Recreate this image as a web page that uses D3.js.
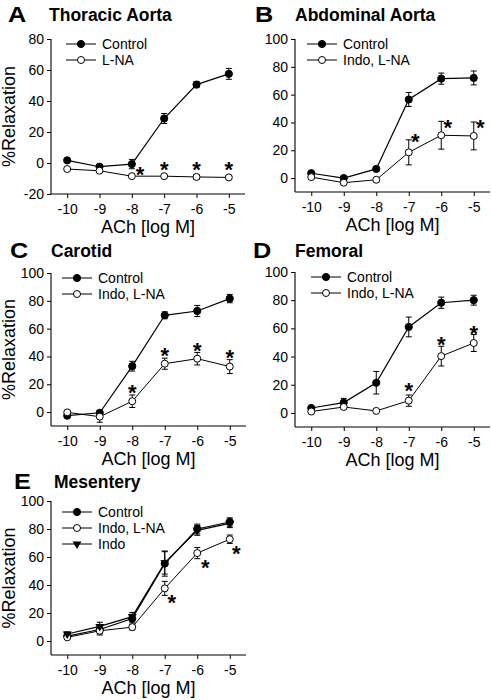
<!DOCTYPE html>
<html><head><meta charset="utf-8">
<script src="https://cdn.jsdelivr.net/npm/d3@7"></script>
<style>
body{margin:0;background:#fff;}
svg{display:block;}
text{font-family:"Liberation Sans",Arial,Helvetica,sans-serif;fill:#000;}
</style></head>
<body><svg id="c" width="492" height="700"></svg>
<script>
const doses = [-10, -9, -8, -7, -6, -5];
const xTicks = [-10, -9, -8, -7, -6, -5];
const xLabel = "ACh [log M]";
const yLabel = "%Relaxation";

// Panel A – Thoracic Aorta
const aControl = [1.7, -2.4, -0.7, 28.7, 50.6, 57.5];
const aControlErr = [1.2, 1.2, 3.0, 3.2, 2.0, 3.5];
const aLNA = [-3.9, -5.0, -8.5, -8.5, -9.0, -9.3];
const aLNAErr = [0.8, 0.8, 0.8, 1.0, 1.5, 1.2];
const aStars = [[-7.75, -4.5], [-7, -1], [-6, -1], [-5, -1]];
const aYTicks = [-20, 0, 20, 40, 60, 80];

// Panel B – Abdominal Aorta
const bControl = [3.5, 0.0, 6.6, 56.5, 71.5, 72.0];
const bControlErr = [1.0, 1.0, 1.5, 5.0, 4.0, 5.0];
const bIndoLNA = [0.7, -3.3, -1.2, 18.5, 30.8, 30.3];
const bIndoLNAErr = [0.8, 1.0, 1.0, 9.0, 10.0, 10.0];
const bStars = [[-6.8, 29.5], [-5.8, 39.5], [-4.8, 39.5]];

// Panel C – Carotid
const cControl = [-2.6, -0.5, 33.0, 69.6, 72.7, 81.6];
const cControlErr = [1.0, 1.5, 3.5, 2.5, 4.0, 3.0];
const cIndoLNA = [-0.2, -3.3, 7.8, 34.8, 38.4, 32.7];
const cIndoLNAErr = [1.0, 4.0, 4.5, 4.0, 4.5, 5.0];
const cStars = [[-8, 17.5], [-7, 44], [-6, 47.5], [-5, 42.5]];

// Panel D – Femoral
const dControl = [3.5, 7.3, 21.4, 61.0, 78.2, 80.0];
const dControlErr = [1.0, 3.0, 8.0, 7.0, 4.0, 3.5];
const dIndoLNA = [1.0, 4.2, 1.4, 8.7, 40.3, 49.6];
const dIndoLNAErr = [0.8, 1.5, 0.8, 4.0, 7.0, 6.0];
const dStars = [[-7, 19], [-6, 52], [-5, 59.5]];

// Panel E – Mesentery
const eControl = [3.5, 8.2, 16.0, 55.3, 80.0, 85.0];
const eControlErr = [1.5, 3.0, 3.0, 9.0, 3.5, 3.0];
const eIndoLNA = [2.6, 7.3, 9.9, 37.6, 62.8, 72.7];
const eIndoLNAErr = [1.0, 3.0, 2.0, 5.0, 4.0, 3.0];
const eIndo = [5.0, 10.4, 17.4, 55.8, 79.0, 84.0];
const eIndoErr = [1.5, 3.0, 3.0, 8.0, 3.5, 3.0];
const eStars = [[-6.78, 31], [-5.75, 56], [-4.8, 65.5]];
const yTicks100 = [0, 20, 40, 60, 80, 100];

const panels = [
  {letter:"A", title:"Thoracic Aorta", x0:51, x1:245, yTop:39, yBot:194, yDom:[-20,80], yTicks:aYTicks, ylab:true,
   letterX:8, titleX:49, headY:22,
   series:[{name:"Control", v:aControl, e:aControlErr, m:"fill"},{name:"L-NA", v:aLNA, e:aLNAErr, m:"open"}],
   stars:aStars, legX:66, legY:44},
  {letter:"B", title:"Abdominal Aorta", x0:295, x1:490, yTop:39, yBot:192, yDom:[-10,100], yTicks:yTicks100, ylab:false,
   letterX:255, titleX:295, headY:22,
   series:[{name:"Control", v:bControl, e:bControlErr, m:"fill"},{name:"Indo, L-NA", v:bIndoLNA, e:bIndoLNAErr, m:"open"}],
   stars:bStars, legX:307, legY:44},
  {letter:"C", title:"Carotid", x0:51, x1:246, yTop:273, yBot:426, yDom:[-10,100], yTicks:yTicks100, ylab:true,
   letterX:10, titleX:51, headY:258,
   series:[{name:"Control", v:cControl, e:cControlErr, m:"fill"},{name:"Indo, L-NA", v:cIndoLNA, e:cIndoLNAErr, m:"open"}],
   stars:cStars, legX:62, legY:278},
  {letter:"D", title:"Femoral", x0:295, x1:490, yTop:272, yBot:427, yDom:[-10,100], yTicks:yTicks100, ylab:false,
   letterX:253, titleX:295, headY:258,
   series:[{name:"Control", v:dControl, e:dControlErr, m:"fill"},{name:"Indo, L-NA", v:dIndoLNA, e:dIndoLNAErr, m:"open"}],
   stars:dStars, legX:311, legY:277},
  {letter:"E", title:"Mesentery", x0:51, x1:246, yTop:501, yBot:655, yDom:[-10,100], yTicks:yTicks100, ylab:true,
   letterX:14, titleX:54, headY:489,
   series:[{name:"Control", v:eControl, e:eControlErr, m:"fill"},{name:"Indo, L-NA", v:eIndoLNA, e:eIndoLNAErr, m:"open"},{name:"Indo", v:eIndo, e:eIndoErr, m:"tri"}],
   stars:eStars, legX:62, legY:512}
];

const svg = d3.select("#c");

function marker(g, type, cx, cy){
  if(type==="fill"){
    g.append("circle").attr("cx",cx).attr("cy",cy).attr("r",3.6).attr("fill","#000").attr("stroke","#000").attr("stroke-width",1);
  } else if(type==="open"){
    g.append("circle").attr("cx",cx).attr("cy",cy).attr("r",3.5).attr("fill","#fff").attr("stroke","#000").attr("stroke-width",1);
  } else {
    g.append("path").attr("d", d3.symbol().type(d3.symbolTriangle).size(34)()).attr("transform",`translate(${cx},${cy}) rotate(180)`).attr("fill","#000");
  }
}

panels.forEach(p=>{
  const g = svg.append("g");
  const x = d3.scaleLinear().domain([-10.5,-4.5]).range([p.x0,p.x1]);
  const y = d3.scaleLinear().domain(p.yDom).range([p.yBot,p.yTop]);

  // axes
  const ax = g.append("g").attr("transform",`translate(0,${p.yBot})`)
    .call(d3.axisBottom(x).tickValues(xTicks).tickSize(4).tickPadding(6).tickFormat(d=>d));
  const ay = g.append("g").attr("transform",`translate(${p.x0},0)`)
    .call(d3.axisLeft(y).tickValues(p.yTicks).tickSize(4).tickPadding(3).tickFormat(d=>d));
  [ax,ay].forEach(a=>{
    a.select(".domain").attr("stroke","#000").attr("stroke-width",1.1).attr("d", a===ax ? `M${p.x0},0H${p.x1}` : `M0,${p.yBot}V${p.yTop}`);
    a.selectAll(".tick line").attr("stroke","#000").attr("stroke-width",1);
    a.selectAll(".tick text").attr("font-size",14).attr("font-family","Liberation Sans, Arial, sans-serif").attr("fill","#000");
  });
  ax.selectAll(".tick text").attr("dy","0.71em");

  // titles
  g.append("text").attr("x",p.letterX).attr("y",p.headY).attr("font-size",22).attr("font-weight","bold")
    .attr("transform",`translate(${p.letterX},0) scale(1.15,1) translate(${-p.letterX},0)`).text(p.letter);
  g.append("text").attr("x",p.titleX).attr("y",p.headY-1).attr("font-size",17.5).attr("font-weight","bold").text(p.title);
  g.append("text").attr("x",(p.x0+p.x1)/2).attr("y",p.yBot+39).attr("text-anchor","middle").attr("font-size",18).text(xLabel);
  if(p.ylab){
    g.append("text").attr("transform",`translate(15,${(p.yTop+p.yBot)/2}) rotate(-90)`).attr("text-anchor","middle").attr("font-size",18).text(yLabel);
  }

  // series
  p.series.forEach(s=>{
    const pts = doses.map((d,i)=>({x:d, v:s.v[i], e:s.e[i]}));
    g.append("path").datum(pts).attr("fill","none").attr("stroke","#000").attr("stroke-width", s.m==="open"?1:1.2)
      .attr("d", d3.line().x(d=>x(d.x)).y(d=>y(d.v)));
    pts.forEach(d=>{
      const cx=x(d.x), yt=y(d.v+d.e), yb=y(d.v-d.e);
      g.append("line").attr("x1",cx).attr("x2",cx).attr("y1",yt).attr("y2",yb).attr("stroke","#000").attr("stroke-width",1);
      g.append("line").attr("x1",cx-3).attr("x2",cx+3).attr("y1",yt).attr("y2",yt).attr("stroke","#000").attr("stroke-width",1);
      g.append("line").attr("x1",cx-3).attr("x2",cx+3).attr("y1",yb).attr("y2",yb).attr("stroke","#000").attr("stroke-width",1);
    });
  });
  p.series.forEach(s=>{
    doses.forEach((d,i)=>marker(g, s.m, x(d), y(s.v[i])));
  });

  // stars
  p.stars.forEach(st=>{
    g.append("text").attr("x",x(st[0])).attr("y",y(st[1])+12).attr("text-anchor","middle").attr("font-size",22).attr("font-weight","bold").text("*");
  });

  // legend
  p.series.forEach((s,i)=>{
    const ly = p.legY + i*16;
    g.append("line").attr("x1",p.legX).attr("x2",p.legX+30).attr("y1",ly).attr("y2",ly).attr("stroke","#000").attr("stroke-width",1);
    marker(g, s.m, p.legX+15, ly);
    g.append("text").attr("x",p.legX+36).attr("y",ly+5).attr("font-size",14).text(s.name);
  });
});
</script></body></html>
